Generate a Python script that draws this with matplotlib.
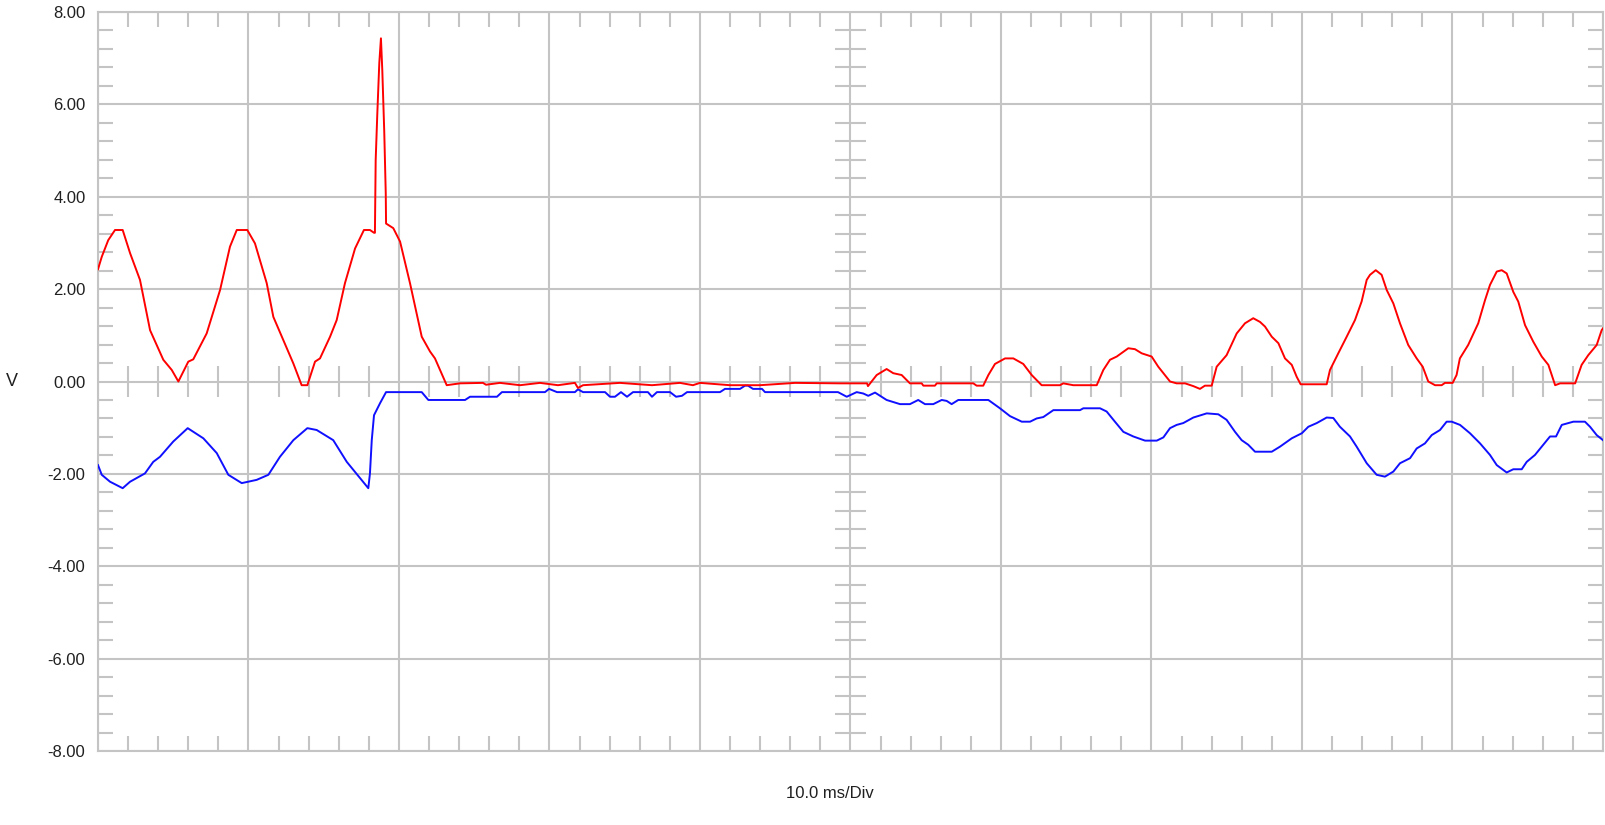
import matplotlib.pyplot as plt
import numpy as np
import matplotlib

# plot settings
plt.rc('font', family=['Liberation Sans', 'DejaVu Sans'], size=12)
grid_col = '#c4c4c4'

# time in ms (10 ms/Div, 10 divisions), volts
red_t = [0.0, 0.25, 0.68, 1.13, 1.64, 2.13, 2.79, 3.46, 4.34, 4.90, 5.34, 6.00, 6.33,
         7.22, 8.11, 8.77, 9.22, 9.92, 10.43, 11.21, 11.65, 12.98, 13.53, 13.91, 14.42,
         14.75, 15.42, 15.86, 16.41, 17.08, 17.67, 18.07, 18.34, 18.40, 18.45, 18.56,
         18.69, 18.80, 18.89, 19.02, 19.12, 19.14, 19.62, 20.07, 20.73, 21.51, 22.06,
         22.39, 23.17, 24.05, 25.58, 25.78, 26.71, 28.04, 29.37, 30.56, 31.69, 31.89,
         32.23, 34.68, 36.81, 38.67, 39.53, 40.0, 41.99, 43.99, 46.31, 49.30, 51.10,
         51.16, 51.74, 52.40, 52.84, 53.40, 53.95, 54.73, 54.84, 55.61, 55.73, 58.16,
         58.38, 58.82, 59.16, 59.60, 60.27, 60.82, 61.48, 62.04, 62.70, 63.92, 64.14,
         64.80, 66.36, 66.80, 67.24, 67.69, 68.46, 68.90, 69.35, 70.01, 70.45, 71.23,
         71.67, 72.23, 72.78, 73.22, 73.55, 74.00, 74.33, 74.99, 75.66, 76.21, 76.76,
         77.21, 77.54, 77.99, 78.43, 78.87, 79.32, 79.65, 79.91, 81.64, 81.86, 82.41,
         82.97, 83.52, 83.96, 84.30, 84.52, 84.90, 85.29, 85.63, 86.07, 86.51, 87.06,
         87.62, 88.02, 88.39, 88.84, 89.28, 89.50, 90.01, 90.27, 90.49, 91.04, 91.71,
         92.16, 92.49, 92.94, 93.27, 93.60, 94.04, 94.37, 94.82, 95.37, 95.93, 96.37,
         96.82, 97.15, 98.15, 98.58, 99.02, 99.58, 99.91, 100.0]
red_v = [2.43, 2.70, 3.06, 3.28, 3.28, 2.78, 2.20, 1.11, 0.47, 0.25, 0.0, 0.43, 0.48,
         1.04, 1.98, 2.92, 3.28, 3.28, 2.99, 2.13, 1.40, 0.39, -0.08, -0.08, 0.43,
         0.50, 0.97, 1.33, 2.13, 2.88, 3.28, 3.28, 3.22, 3.22, 4.79, 5.81,
         6.89, 7.43, 6.74, 5.41, 4.07, 3.42, 3.32, 3.03, 2.13, 0.97, 0.65,
         0.50, -0.08, -0.04, -0.03, -0.07, -0.03, -0.08, -0.03, -0.08, -0.03, -0.14,
         -0.08, -0.03, -0.08, -0.03, -0.08, -0.03, -0.08, -0.08, -0.03, -0.04, -0.04,
         -0.10, 0.14, 0.27, 0.18, 0.14, -0.04, -0.04, -0.09, -0.09, -0.04, -0.04,
         -0.09, -0.09, 0.14, 0.38, 0.50, 0.50, 0.38, 0.14, -0.08, -0.08, -0.04,
         -0.08, -0.08, 0.25, 0.47, 0.54, 0.72, 0.70, 0.61, 0.54, 0.32, 0.0,
         -0.04, -0.04, -0.10, -0.16, -0.09, -0.09, 0.32, 0.57, 1.04, 1.26, 1.37,
         1.29, 1.19, 0.97, 0.83, 0.50, 0.36, 0.10, -0.06, -0.06, 0.25, 0.61,
         0.97, 1.33, 1.73, 2.20, 2.31, 2.41, 2.31, 1.98, 1.69, 1.26, 0.79,
         0.50, 0.32, 0.0, -0.08, -0.08, -0.03, -0.03, 0.14, 0.50, 0.79, 1.26,
         1.76, 2.09, 2.38, 2.41, 2.34, 1.94, 1.73, 1.22, 0.86, 0.54, 0.36,
         -0.08, -0.04, -0.04, 0.36, 0.57, 0.79, 1.11, 1.15]

blue_t = [0.0, 0.25, 0.80, 1.64, 2.13, 3.12, 3.67, 4.12, 5.00, 5.96, 7.00, 7.89, 8.66,
          9.55, 10.54, 11.32, 12.09, 12.98, 13.91, 14.53, 15.63, 16.53, 17.96, 18.07,
          18.19, 18.34, 18.74, 19.14, 21.51, 21.95, 24.39, 24.72, 26.51, 26.84, 29.70,
          29.97, 30.50, 31.69, 31.89, 32.23, 33.69, 34.02, 34.35, 34.75, 35.15, 35.55,
          36.54, 36.81, 37.14, 38.01, 38.41, 38.80, 39.14, 41.33, 41.66, 42.66, 42.99,
          43.19, 43.52, 44.12, 44.32, 49.17, 49.75, 50.41, 50.85, 51.18, 51.63, 52.40,
          53.29, 53.95, 54.50, 54.95, 55.50, 56.06, 56.39, 56.72, 57.16, 59.16, 59.93,
          60.60, 61.38, 61.93, 62.37, 62.81, 63.48, 65.25, 65.47, 66.58, 67.02, 67.57,
          68.13, 68.79, 69.57, 70.35, 70.79, 71.23, 71.67, 72.11, 72.78, 73.67, 74.44,
          74.99, 75.55, 75.99, 76.43, 76.88, 77.99, 78.54, 79.32, 79.99, 80.42, 80.98,
          81.64, 82.08, 82.52, 83.19, 83.63, 84.30, 84.96, 85.51, 86.07, 86.51, 87.18,
          87.62, 88.17, 88.62, 89.17, 89.61, 89.95, 90.50, 91.16, 91.83, 92.49, 92.94,
          93.60, 94.04, 94.60, 94.93, 95.48, 96.03, 96.48, 96.88, 97.26, 98.03, 98.80,
          99.14, 99.58, 100.0]
blue_v = [-1.81, -2.02, -2.17, -2.31, -2.17, -1.99, -1.74, -1.63, -1.30, -1.01, -1.23, -1.55, -2.02,
          -2.20, -2.13, -2.02, -1.63, -1.27, -1.01, -1.05, -1.27, -1.74, -2.31, -1.99,
          -1.27, -0.73, -0.47, -0.23, -0.23, -0.40, -0.40, -0.33, -0.33, -0.23, -0.23,
          -0.16, -0.23, -0.23, -0.17, -0.23, -0.23, -0.33, -0.33, -0.23, -0.33, -0.23,
          -0.23, -0.33, -0.23, -0.23, -0.33, -0.31, -0.23, -0.23, -0.16, -0.16, -0.09,
          -0.09, -0.16, -0.16, -0.23, -0.23, -0.33, -0.23, -0.26, -0.31, -0.24, -0.40,
          -0.49, -0.49, -0.40, -0.49, -0.49, -0.40, -0.42, -0.49, -0.40, -0.40, -0.58,
          -0.75, -0.87, -0.87, -0.80, -0.77, -0.62, -0.62, -0.58, -0.58, -0.65, -0.87,
          -1.09, -1.19, -1.28, -1.28, -1.21, -1.01, -0.94, -0.90, -0.78, -0.69, -0.71,
          -0.83, -1.09, -1.27, -1.37, -1.52, -1.52, -1.41, -1.23, -1.12, -0.98, -0.90,
          -0.78, -0.79, -0.98, -1.19, -1.41, -1.77, -2.02, -2.06, -1.95, -1.77, -1.66,
          -1.45, -1.34, -1.16, -1.05, -0.87, -0.87, -0.94, -1.12, -1.34, -1.59, -1.81,
          -1.97, -1.90, -1.90, -1.74, -1.59, -1.37, -1.19, -1.19, -0.94, -0.87, -0.87,
          -0.98, -1.16, -1.27]

ytick_vals = [-8, -6, -4, -2, 0, 2, 4, 6, 8]
ytick_labels = ['%.2f' % v for v in ytick_vals]

fig = plt.figure(figsize=(16.06, 8.25), dpi=100)
ax = fig.add_axes([98/1606, 74/825, 1505/1606, 739/825])

ax.set_xlim(0, 100)
ax.set_ylim(-8, 8)

# major grid
ax.set_xticks(np.arange(0, 101, 10))
ax.set_yticks(ytick_vals)
ax.set_yticklabels(ytick_labels)
ax.set_xticklabels([])
ax.grid(True, color=grid_col, linewidth=1.5, zorder=1)

# minor ticks on all four sides, pointing in
ax.set_xticks(np.arange(0, 101, 2), minor=True)
ax.set_yticks(np.arange(-8, 8.01, 0.4), minor=True)
ax.tick_params(which='major', length=0, pad=9, labelsize=12, colors='#202020')
ax.tick_params(which='minor', direction='in', length=11, width=1.5, color=grid_col,
               top=True, right=True, bottom=True, left=True)
for s in ax.spines.values():
    s.set_color(grid_col)
    s.set_linewidth(1.5)

# ticks across the centre axes
xm = [x for x in np.arange(2, 100, 2) if x % 10 != 0]
ym = [y for y in np.arange(-7.6, 7.7, 0.4) if abs(round(y, 1)) % 2 > 0.01]
ax.vlines(xm, -0.33, 0.33, color=grid_col, linewidth=1.5, zorder=1)
ax.hlines(ym, 49.0, 51.0, color=grid_col, linewidth=1.5, zorder=1)

ax.plot(blue_t, blue_v, color='#1010ff', linewidth=1.4, zorder=3)
ax.plot(red_t, red_v, color='#ff0000', linewidth=1.4, zorder=3)

fig.text(12/1606, 1 - 381/825, 'V', fontsize=13, ha='center', va='center', color='#202020')
fig.text(830/1606, 1 - 794/825, '10.0 ms/Div', fontsize=12, ha='center', va='center',
         color='#202020')

plt.savefig('out.png', dpi=100)
